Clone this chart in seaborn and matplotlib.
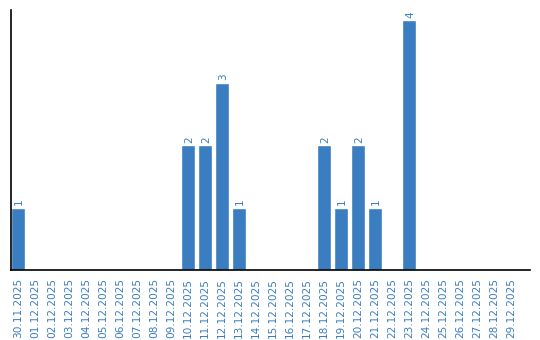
import matplotlib
matplotlib.use("Agg")
import matplotlib.pyplot as plt
import seaborn as sns
import pandas as pd

dates = ["30.11.2025", "01.12.2025", "02.12.2025", "03.12.2025", "04.12.2025",
         "05.12.2025", "06.12.2025", "07.12.2025", "08.12.2025", "09.12.2025",
         "10.12.2025", "11.12.2025", "12.12.2025", "13.12.2025", "14.12.2025",
         "15.12.2025", "16.12.2025", "17.12.2025", "18.12.2025", "19.12.2025",
         "20.12.2025", "21.12.2025", "22.12.2025", "23.12.2025", "24.12.2025",
         "25.12.2025", "26.12.2025", "27.12.2025", "28.12.2025", "29.12.2025"]
counts = [1, 0, 0, 0, 0, 0, 0, 0, 0, 0,
          2, 2, 3, 1, 0, 0, 0, 0, 2, 1,
          2, 1, 0, 4, 0, 0, 0, 0, 0, 0]

blue = "#3b7dc1"
sns.set_style("white")
plt.rcParams['font.family'] = ['DejaVu Sans']

df = pd.DataFrame({"date": dates, "count": counts})
fig = plt.figure(figsize=(5.4, 3.4), dpi=100)
ax = fig.add_axes([11/540, 70/340, 519/540, 260/340])
sns.barplot(data=df, x="date", y="count", color=blue, saturation=1, width=0.82, ax=ax)

for i, v in enumerate(counts):
    if v > 0:
        ax.text(i + 0.05, v + 0.04, str(v), rotation=90, ha="center", va="bottom",
                color=blue, fontsize=7.5)

ax.set_xlim(-0.41, 30.1)
ax.set_ylim(0, 4.16)
ax.set_xlabel("")
ax.set_ylabel("")
ax.set_yticks([])
ax.tick_params(axis="x", length=0, pad=6, labelsize=7.6, labelcolor=blue)
plt.setp(ax.get_xticklabels(), rotation=90, va="top", ha="center")
for s in ["top", "right"]:
    ax.spines[s].set_visible(False)
for s in ["left", "bottom"]:
    ax.spines[s].set_color("black")
    ax.spines[s].set_linewidth(1.2)

fig.savefig("out.png", dpi=100)
